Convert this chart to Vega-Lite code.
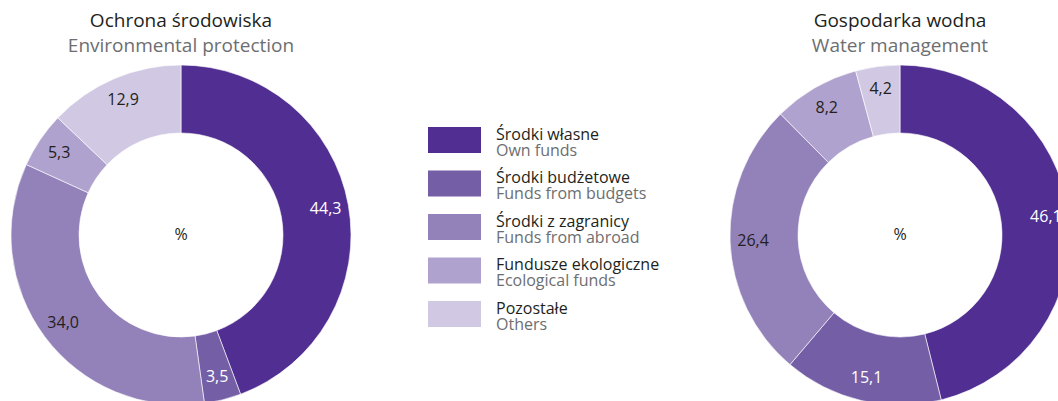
{
  "$schema": "https://vega.github.io/schema/vega-lite/v6.json",
  "autosize": {"type": "pad"},
  "padding": {"top": 11, "left": 0, "right": 0, "bottom": 0},
  "background": "white",
  "spacing": 0,
  "bounds": "flush",
  "config": {
    "view": {"stroke": null},
    "font": "Open Sans",
    "title": {"anchor": "middle", "fontSize": 19, "fontWeight": "normal", "color": "#231f20", "subtitleFontSize": 19, "subtitleColor": "#6d6e71", "subtitlePadding": 6, "offset": 8, "font": "Open Sans", "subtitleFont": "Open Sans"}
  },
  "datasets": {
    "shares": [
      {"chart": "Ochrona środowiska", "category": "Środki własne", "order": 1, "value": 44.3, "label": "44,3"},
      {"chart": "Ochrona środowiska", "category": "Środki budżetowe", "order": 2, "value": 3.5, "label": "3,5"},
      {"chart": "Ochrona środowiska", "category": "Środki z zagranicy", "order": 3, "value": 34.0, "label": "34,0"},
      {"chart": "Ochrona środowiska", "category": "Fundusze ekologiczne", "order": 4, "value": 5.3, "label": "5,3"},
      {"chart": "Ochrona środowiska", "category": "Pozostałe", "order": 5, "value": 12.9, "label": "12,9"},
      {"chart": "Gospodarka wodna", "category": "Środki własne", "order": 1, "value": 46.1, "label": "46,1"},
      {"chart": "Gospodarka wodna", "category": "Środki budżetowe", "order": 2, "value": 15.1, "label": "15,1"},
      {"chart": "Gospodarka wodna", "category": "Środki z zagranicy", "order": 3, "value": 26.4, "label": "26,4"},
      {"chart": "Gospodarka wodna", "category": "Fundusze ekologiczne", "order": 4, "value": 8.2, "label": "8,2"},
      {"chart": "Gospodarka wodna", "category": "Pozostałe", "order": 5, "value": 4.2, "label": "4,2"}
    ],
    "legend": [
      {"category": "Środki własne", "order": 1, "pl": "Środki własne", "en": "Own funds"},
      {"category": "Środki budżetowe", "order": 2, "pl": "Środki budżetowe", "en": "Funds from budgets"},
      {"category": "Środki z zagranicy", "order": 3, "pl": "Środki z zagranicy", "en": "Funds from abroad"},
      {"category": "Fundusze ekologiczne", "order": 4, "pl": "Fundusze ekologiczne", "en": "Ecological funds"},
      {"category": "Pozostałe", "order": 5, "pl": "Pozostałe", "en": "Others"}
    ]
  },
  "hconcat": [
    {
      "width": 362, "height": 340,
      "title": {"text": "Ochrona środowiska", "subtitle": "Environmental protection"},
      "layer": [
        {
          "data": {"name": "shares"},
          "transform": [{"filter": "datum.chart === 'Ochrona środowiska'"}],
          "mark": {"type": "arc", "innerRadius": 102, "outerRadius": 170, "stroke": "#ffffff", "strokeWidth": 0.6},
          "encoding": {
            "theta": {"field": "value", "type": "quantitative", "stack": true},
            "order": {"field": "order", "type": "quantitative"},
            "color": {"field": "category", "type": "nominal", "legend": null,
              "scale": {"domain": ["Środki własne", "Środki budżetowe", "Środki z zagranicy", "Fundusze ekologiczne", "Pozostałe"], "range": ["#512e91", "#745ea6", "#9381ba", "#b0a2ce", "#d1c9e3"]}}
          }
        },
        {
          "data": {"name": "shares"},
          "transform": [{"filter": "datum.chart === 'Ochrona środowiska'"}],
          "mark": {"type": "text", "radius": 147, "fontSize": 16},
          "encoding": {
            "theta": {"field": "value", "type": "quantitative", "stack": true},
            "order": {"field": "order", "type": "quantitative"},
            "text": {"field": "label", "type": "nominal"},
            "color": {"condition": {"test": "datum.order <= 2", "value": "#ffffff"}, "value": "#231f20"}
          }
        },
        {
          "data": {"values": [{"t": "%"}]},
          "mark": {"type": "text", "fontSize": 16, "color": "#231f20"},
          "encoding": {"text": {"field": "t", "type": "nominal"}}
        }
      ]
    },
    {
      "width": 357, "height": 340,
      "data": {"name": "legend"},
      "encoding": {
        "y": {"field": "order", "type": "quantitative", "axis": null, "scale": {"domain": [-0.724, 7.092], "nice": false, "zero": false, "reverse": true}}
      },
      "layer": [
        {
          "mark": {"type": "tick", "orient": "horizontal", "size": 53, "thickness": 26, "opacity": 1},
          "encoding": {
            "x": {"datum": 92.5, "type": "quantitative", "axis": null, "scale": {"domain": [0, 357], "nice": false, "zero": false}},
            "color": {"field": "category", "type": "nominal", "legend": null,
              "scale": {"domain": ["Środki własne", "Środki budżetowe", "Środki z zagranicy", "Fundusze ekologiczne", "Pozostałe"], "range": ["#512e91", "#745ea6", "#9381ba", "#b0a2ce", "#d1c9e3"]}}
          }
        },
        {
          "mark": {"type": "text", "align": "left", "baseline": "alphabetic", "fontSize": 16, "color": "#231f20"},
          "encoding": {
            "x": {"datum": 134, "type": "quantitative"},
            "text": {"field": "pl", "type": "nominal"}
          }
        },
        {
          "mark": {"type": "text", "align": "left", "baseline": "alphabetic", "fontSize": 16, "color": "#6d6e71", "dy": 16},
          "encoding": {
            "x": {"datum": 134, "type": "quantitative"},
            "text": {"field": "en", "type": "nominal"}
          }
        }
      ]
    },
    {
      "width": 362, "height": 340,
      "title": {"text": "Gospodarka wodna", "subtitle": "Water management"},
      "layer": [
        {
          "data": {"name": "shares"},
          "transform": [{"filter": "datum.chart === 'Gospodarka wodna'"}],
          "mark": {"type": "arc", "innerRadius": 102, "outerRadius": 170, "stroke": "#ffffff", "strokeWidth": 0.6},
          "encoding": {
            "theta": {"field": "value", "type": "quantitative", "stack": true},
            "order": {"field": "order", "type": "quantitative"},
            "color": {"field": "category", "type": "nominal", "legend": null,
              "scale": {"domain": ["Środki własne", "Środki budżetowe", "Środki z zagranicy", "Fundusze ekologiczne", "Pozostałe"], "range": ["#512e91", "#745ea6", "#9381ba", "#b0a2ce", "#d1c9e3"]}}
          }
        },
        {
          "data": {"name": "shares"},
          "transform": [{"filter": "datum.chart === 'Gospodarka wodna'"}],
          "mark": {"type": "text", "radius": 147, "fontSize": 16},
          "encoding": {
            "theta": {"field": "value", "type": "quantitative", "stack": true},
            "order": {"field": "order", "type": "quantitative"},
            "text": {"field": "label", "type": "nominal"},
            "color": {"condition": {"test": "datum.order <= 2", "value": "#ffffff"}, "value": "#231f20"}
          }
        },
        {
          "data": {"values": [{"t": "%"}]},
          "mark": {"type": "text", "fontSize": 16, "color": "#231f20"},
          "encoding": {"text": {"field": "t", "type": "nominal"}}
        }
      ]
    }
  ]
}
